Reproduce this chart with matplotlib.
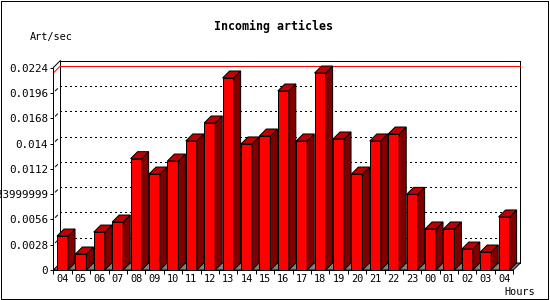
import matplotlib
matplotlib.use('Agg')
import matplotlib.pyplot as plt
from matplotlib.patches import Polygon, Rectangle
import numpy as np

# ---------- data ----------
hours = ['04', '05', '06', '07', '08', '09', '10', '11', '12', '13', '14', '15', '16',
         '17', '18', '19', '20', '21', '22', '23', '00', '01', '02', '03', '04']
rates = [0.00376, 0.00177, 0.00420, 0.00531, 0.01232, 0.01062, 0.01206, 0.01428,
         0.01627, 0.02125, 0.01395, 0.01483, 0.01981, 0.01428, 0.02180, 0.01450,
         0.01062, 0.01428, 0.01505, 0.00837, 0.00454, 0.00454, 0.00232, 0.00199,
         0.00587]
yticks = [0, 0.0028, 0.0056, 0.0084, 0.0112, 0.014, 0.0168, 0.0196, 0.0224]
ytick_labels = ['0', '0.0028', '0.0056', '0.0083999999', '0.0112', '0.014',
                '0.0168', '0.0196', '0.0224']

W, H, DPI = 550, 300, 100
FONT = 'DejaVu Sans Mono'
px = 72.0 / DPI   # one pixel in points

fig = plt.figure(figsize=(W / DPI, H / DPI), dpi=DPI)
fig.patch.set_facecolor('white')

# front plane of the 3d box
ax = fig.add_axes([53.3 / W, 30 / H, 460 / W, 202.4 / H])
ax.set_facecolor('none')
n = len(rates)
x = np.arange(n)
ymax = yticks[-1]
ax.set_xlim(-0.5, n - 0.5)
ax.set_ylim(0, ymax)

# depth of 7 px, converted to data units
depth = 7
dx = depth / (460 / n)
dy = depth / (202.4 / ymax)
x0, x1 = -0.5, n - 0.5

# back wall
ax.add_patch(Rectangle((x0 + dx, dy), n, ymax, facecolor='white', edgecolor='black',
                       lw=px, zorder=0.5, clip_on=False, antialiased=False))
ax.plot([x0, x0 + dx], [ymax, ymax + dy], color='black', lw=px, clip_on=False, zorder=0.6)

# dotted grid on back wall, with a short slash from the front axis
for v in yticks[1:-1]:
    ax.plot([x0 + dx, x1 + dx], [v + dy, v + dy], color='black', lw=px,
            ls=(0, (2, 3)), clip_on=False, zorder=1, antialiased=False)
    ax.plot([x0 + 0.3 * dx, x0 + 0.6 * dx], [v + 0.3 * dy, v + 0.6 * dy], color='black',
            lw=px, clip_on=False, zorder=1)

# red line at the maximum
vmax = max(rates)
ax.plot([x0 + dx, x1 + dx], [vmax + dy, vmax + dy], color='red', lw=px,
        clip_on=False, zorder=1.5, antialiased=False)
ax.plot([x0, x0 + dx], [vmax, vmax + dy], color='red', lw=px, clip_on=False, zorder=1.5)

# floor
ax.add_patch(Polygon([(x0, 0), (x1, 0), (x1 + dx, dy), (x0 + dx, dy)], closed=True,
                     facecolor='#808080', edgecolor='black', lw=px, zorder=2, clip_on=False))

# bars
bw = 0.6
ax.bar(x, rates, width=bw, color='#ff0000', edgecolor='black', linewidth=px, zorder=3)
for k, v in zip(x, rates):
    r = k + bw / 2
    l = k - bw / 2
    side = Polygon([(r, 0), (r + dx, dy), (r + dx, v + dy), (r, v)], closed=True,
                   facecolor='#800000', edgecolor='black', lw=px, zorder=3, clip_on=False)
    top = Polygon([(l, v), (r, v), (r + dx, v + dy), (l + dx, v + dy)], closed=True,
                  facecolor='#c00000', edgecolor='black', lw=px, zorder=3, clip_on=False)
    ax.add_patch(side)
    ax.add_patch(top)

# axes lines and ticks
for s in ['top', 'right']:
    ax.spines[s].set_visible(False)
for s in ['left', 'bottom']:
    ax.spines[s].set_linewidth(px)
    ax.spines[s].set_zorder(4)

ax.set_yticks(yticks)
ax.set_yticklabels(ytick_labels, family=FONT, fontsize=7.8)
ax.tick_params(axis='y', length=3 * px, width=px, pad=1.7, direction='out')

ax.set_xticks(np.arange(n + 1) - 0.5)
ax.set_xticklabels([])
ax.tick_params(axis='x', which='major', length=4 * px, width=px, direction='out')
ax.set_xticks(x, hours, minor=True)
ax.tick_params(axis='x', which='minor', length=0, pad=3, labelsize=7.4)
for t in ax.get_xticklabels(minor=True):
    t.set_family(FONT)

# texts
fig.text(273.8 / W, 1 - 26.5 / H, 'Incoming articles', ha='center', va='center',
         family=FONT, weight='bold', fontsize=8.4)
fig.text(30 / W, 1 - 36.7 / H, 'Art/sec', ha='left', va='center', family=FONT, fontsize=7.4)
fig.text(504.3 / W, 1 - 291.7 / H, 'Hours', ha='left', va='center', family=FONT, fontsize=7.4)

# outer frame
fig.patches.append(Rectangle((0.5 / W, 1.5 / H), 547 / W, 298 / H, transform=fig.transFigure,
                             fill=False, edgecolor='black', lw=px, antialiased=False))

fig.savefig('out.png', dpi=DPI)
